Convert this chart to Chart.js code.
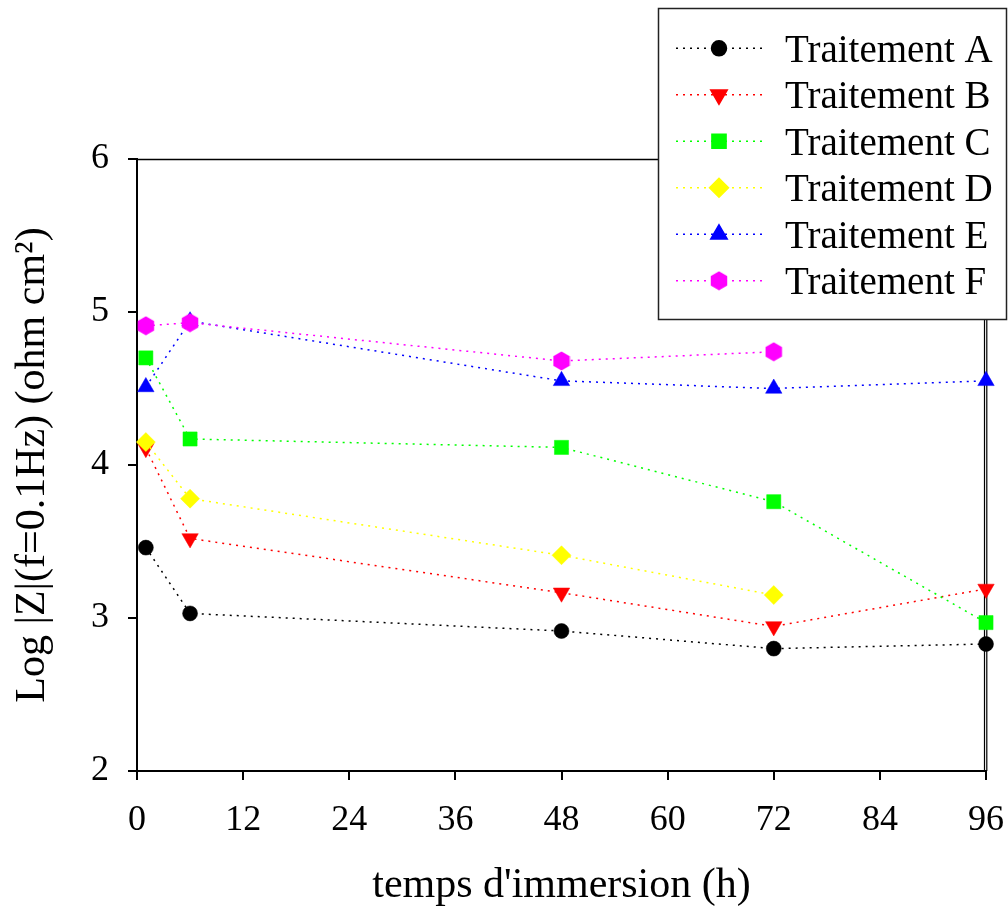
<!DOCTYPE html>
<html>
<head>
<meta charset="utf-8">
<script src="https://cdn.jsdelivr.net/npm/chart.js@4.4.0/dist/chart.umd.min.js"></script>
<style>
  html, body { margin: 0; padding: 0; background: #fff; }
</style>
</head>
<body>
<canvas id="chart" width="1008" height="912"></canvas>
<script>
// temps d'immersion (h)
const hours = [1, 6, 48, 72, 96];
const xTicks = [0, 12, 24, 36, 48, 60, 72, 84, 96];
const yTicks = [2, 3, 4, 5, 6];

// Log |Z| at f = 0.1 Hz
const traitementA = [3.46, 3.03, 2.915, 2.80, 2.83];
const traitementB = [4.11, 3.52, 3.165, 2.945, 3.19];
const traitementC = [4.70, 4.17, 4.115, 3.76, 2.97];
const traitementD = [4.15, 3.78, 3.41, 3.15, null];
const traitementE = [4.51, 4.94, 4.55, 4.50, 4.55];
const traitementF = [4.91, 4.93, 4.68, 4.74, null];

const labels = ['Traitement A', 'Traitement B', 'Traitement C', 'Traitement D', 'Traitement E', 'Traitement F'];
const colors = ['#000000', '#ff0000', '#00ff00', '#ffff00', '#0000ff', '#ff00ff'];

// hexagon marker (pointy top), Chart.js has none built in
const hexagon = document.createElement('canvas');
hexagon.width = 18;
hexagon.height = 20;
(() => {
    const c = hexagon.getContext('2d');
    const R = 9.5;
    c.beginPath();
    for (let i = 0; i < 6; i++) {
        const a = -Math.PI / 2 + i * Math.PI / 3;
        const px = 9 + R * Math.cos(a), py = 10 + R * Math.sin(a);
        if (i === 0) c.moveTo(px, py); else c.lineTo(px, py);
    }
    c.closePath();
    c.fillStyle = '#ff00ff';
    c.fill();
})();

const markers = [
    { pointStyle: 'circle', radius: 7.5, rotation: 0 },
    { pointStyle: 'triangle', radius: 9.5, rotation: 180 },
    { pointStyle: 'rect', radius: 10, rotation: 0 },
    { pointStyle: 'rectRot', radius: 9.5, rotation: 0 },
    { pointStyle: 'triangle', radius: 9.5, rotation: 0 },
    { pointStyle: hexagon, radius: 9.5, rotation: 0 }
];

const series = [traitementA, traitementB, traitementC, traitementD, traitementE, traitementF];

const toPoints = (vals) => hours.map((h, i) => ({ x: h, y: vals[i] })).filter(p => p.y !== null);

const datasets = series.map((vals, i) => ({
    label: labels[i],
    data: toPoints(vals),
    borderColor: colors[i],
    backgroundColor: colors[i],
    borderWidth: 1.5,
    borderDash: [2, 5],
    pointStyle: markers[i].pointStyle,
    pointRadius: markers[i].radius,
    pointRotation: markers[i].rotation,
    pointBorderWidth: 0.5,
    pointBorderColor: colors[i],
    pointBackgroundColor: colors[i],
    tension: 0,
    clip: false,
    order: series.length - i
}));

// top and right frame of the plot
const framePlugin = {
    id: 'frame',
    beforeDatasetsDraw(chart) {
        const { ctx, chartArea: a } = chart;
        ctx.save();
        ctx.strokeStyle = '#000';
        ctx.lineWidth = 1.5;
        ctx.beginPath();
        ctx.moveTo(a.left, a.top + 0.5);
        ctx.lineTo(a.right + 1, a.top + 0.5);
        ctx.stroke();
        ctx.lineWidth = 1.2;
        ctx.beginPath();
        ctx.moveTo(a.right - 1.5, a.top);
        ctx.lineTo(a.right - 1.5, a.bottom);
        ctx.moveTo(a.right + 0.8, a.top);
        ctx.lineTo(a.right + 0.8, a.bottom);
        ctx.stroke();
        ctx.restore();
    }
};

// boxed legend in the upper right corner, over the frame
const legendPlugin = {
    id: 'boxLegend',
    afterDraw(chart) {
        const ctx = chart.ctx;
        ctx.save();
        ctx.fillStyle = '#fff';
        ctx.fillRect(658.5, 8.5, 348, 311);
        ctx.strokeStyle = '#222';
        ctx.lineWidth = 1.5;
        ctx.strokeRect(658.5, 8.5, 348, 311);
        ctx.font = '39px "Liberation Serif", "Times New Roman", serif';
        ctx.textBaseline = 'alphabetic';
        ctx.textAlign = 'left';
        labels.forEach((lab, i) => {
            const y = 48.3 + i * 46.5;
            ctx.strokeStyle = colors[i];
            ctx.lineWidth = 1.5;
            ctx.setLineDash([2, 5]);
            ctx.beginPath();
            ctx.moveTo(676, y);
            ctx.lineTo(763, y);
            ctx.stroke();
            ctx.setLineDash([]);
            ctx.fillStyle = colors[i];
            ctx.strokeStyle = colors[i];
            Chart.helpers.drawPoint(ctx, {
                pointStyle: markers[i].pointStyle,
                radius: markers[i].radius,
                rotation: markers[i].rotation,
                borderWidth: 0.5
            }, 719, y);
            ctx.fillStyle = '#000';
            ctx.fillText(lab, 785, y + 13.4);
        });
        ctx.restore();
    }
};

const tickFont = { family: '"Liberation Serif", "Times New Roman", serif', size: 36 };
const titleFont = { family: '"Liberation Serif", "Times New Roman", serif', size: 42 };

new Chart(document.getElementById('chart'), {
    type: 'line',
    data: { datasets: datasets },
    options: {
        responsive: false,
        animation: false,
        devicePixelRatio: 1,
        layout: { padding: { top: 159, right: 22, left: 0, bottom: 0 } },
        plugins: {
            legend: { display: false },
            tooltip: { enabled: false }
        },
        scales: {
            x: {
                type: 'linear',
                min: 0,
                max: 96,
                afterFit: (s) => { s.height = 141; s.paddingRight = 0; s.paddingLeft = 0; },
                afterBuildTicks: (s) => { s.ticks = xTicks.map(v => ({ value: v })); },
                ticks: {
                    color: '#000',
                    font: tickFont,
                    padding: 19,
                    maxRotation: 0,
                    autoSkip: false
                },
                grid: {
                    drawOnChartArea: false,
                    drawTicks: true,
                    tickLength: 9,
                    color: '#000',
                    lineWidth: 2
                },
                border: { display: true, color: '#000', width: 2 },
                title: {
                    display: true,
                    text: "temps d'immersion (h)",
                    color: '#000',
                    font: titleFont,
                    padding: { top: 0, bottom: 1 }
                }
            },
            y: {
                type: 'linear',
                min: 2,
                max: 6,
                afterFit: (s) => { s.width = 137; s.paddingTop = 0; s.paddingBottom = 0; },
                afterBuildTicks: (s) => { s.ticks = yTicks.map(v => ({ value: v })); },
                ticks: {
                    color: '#000',
                    font: tickFont,
                    padding: 19
                },
                grid: {
                    drawOnChartArea: false,
                    drawTicks: true,
                    tickLength: 9,
                    color: '#000',
                    lineWidth: 2
                },
                border: { display: true, color: '#000', width: 2 },
                title: {
                    display: true,
                    text: 'Log |Z|(f=0.1Hz) (ohm cm²)',
                    color: '#000',
                    font: titleFont,
                    padding: { top: 8, bottom: 0 }
                }
            }
        }
    },
    plugins: [framePlugin, legendPlugin]
});
</script>
</body>
</html>
